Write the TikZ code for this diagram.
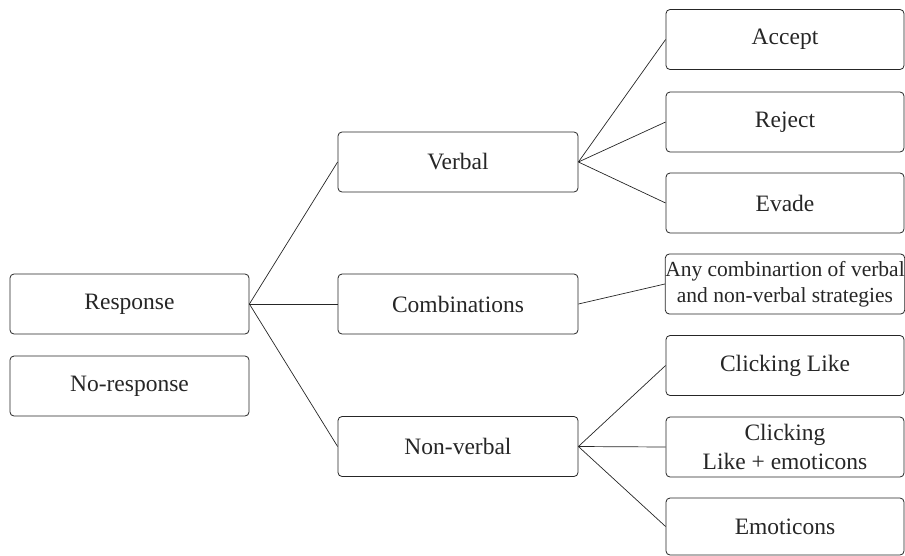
\documentclass[tikz,border=0pt]{standalone}
\usepackage{fontspec}
\setmainfont{Liberation Serif}
\begin{document}
\begin{tikzpicture}[x=1pt,y=-1pt,
  box/.style={draw=black!85, line width=0.8pt, rounded corners=4pt, inner sep=0pt,
    align=center, font=\fontsize{23.5}{28}\selectfont, text=black!85},
  lbox/.style={box, minimum width=239pt, minimum height=60pt},
  mbox/.style={box, minimum width=240pt, minimum height=60pt},
  rbox/.style={box, minimum width=238pt, minimum height=60pt},
  link/.style={draw=black!85, line width=0.7pt}]
\useasboundingbox (0,0) rectangle (905,555);
\node[lbox] (resp) at (129.5,304) {Response};
\node[lbox] (noresp) at (129.5,386) {No-response};
\node[mbox] (verbal) at (458,162) {Verbal};
\node[mbox] (comb) at (458,304) {Combinations};
\node[mbox] (nonv) at (458,446.5) {Non-verbal};
\node[rbox] (accept) at (785,39.5) {Accept};
\node[rbox] (reject) at (785,122) {Reject};
\node[rbox] (evade) at (785,203) {Evade};
\node[rbox, font=\fontsize{21.5}{26}\selectfont] (any) at (785,284) {Any combinartion of verbal\\and non-verbal strategies};
\node[rbox] (click) at (785,365.5) {Clicking Like};
\node[rbox, font=\fontsize{23.5}{29}\selectfont] (clickemo) at (785,447) {Clicking\\Like + emoticons};
\node[rbox, minimum height=57pt] (emo) at (785,526.5) {Emoticons};
\draw[link] (resp.east) -- (verbal.west);
\draw[link] (resp.east) -- (comb.west);
\draw[link] (resp.east) -- (nonv.west);
\draw[link] (verbal.east) -- (accept.west);
\draw[link] (verbal.east) -- (reject.west);
\draw[link] (verbal.east) -- (evade.west);
\draw[link] (comb.east) -- (any.west);
\draw[link] (nonv.east) -- (click.west);
\draw[link] (nonv.east) -- (clickemo.west);
\draw[link] (nonv.east) -- (emo.west);
\end{tikzpicture}
\end{document}
